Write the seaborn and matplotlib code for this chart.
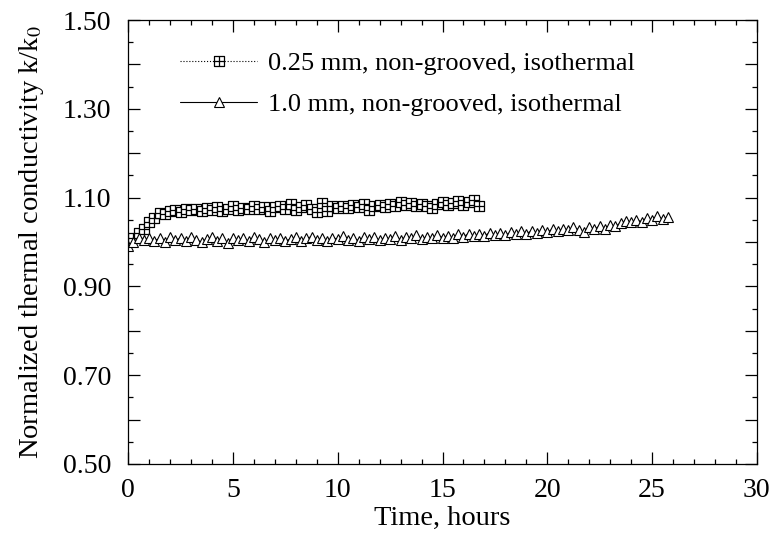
import numpy as np
import pandas as pd
import matplotlib
matplotlib.use("Agg")
import matplotlib.pyplot as plt
from matplotlib.path import Path
import seaborn as sns

# 0.25 mm, non-grooved, isothermal (squares)
t_sq = [0.25, 0.5, 0.75, 1.0, 1.25, 1.5, 1.75, 2.0, 2.25, 2.5, 2.75, 3.0, 3.25, 3.5, 3.75, 4.0,
        4.25, 4.5, 4.75, 5.0, 5.25, 5.5, 5.75, 6.0, 6.25, 6.5, 6.75, 7.0, 7.25, 7.5, 7.75, 8.0,
        8.25, 8.5, 8.75, 9.0, 9.25, 9.5, 9.75, 10.0, 10.25, 10.5, 10.75, 11.0, 11.25, 11.5, 11.75,
        12.0, 12.25, 12.5, 12.75, 13.0, 13.25, 13.5, 13.75, 14.0, 14.25, 14.5, 14.75, 15.0, 15.25,
        15.5, 15.75, 16.0, 16.25, 16.5, 16.75]
k_sq = [1.01, 1.02, 1.03, 1.045, 1.055, 1.065, 1.062, 1.07, 1.072, 1.068, 1.074, 1.071, 1.075, 1.07,
        1.076, 1.072, 1.078, 1.07, 1.074, 1.08, 1.072, 1.077, 1.075, 1.082, 1.074, 1.079, 1.07, 1.078,
        1.082, 1.074, 1.086, 1.072, 1.078, 1.083, 1.075, 1.068, 1.088, 1.07, 1.08, 1.077, 1.082, 1.076,
        1.083, 1.079, 1.085, 1.071, 1.08, 1.084, 1.078, 1.086, 1.082, 1.09, 1.084, 1.088, 1.082, 1.086,
        1.08, 1.077, 1.085, 1.089, 1.083, 1.087, 1.092, 1.084, 1.089, 1.095, 1.081]

# 1.0 mm, non-grooved, isothermal (triangles)
t_tri = [0.0, 0.25, 0.5, 0.75, 1.0, 1.25, 1.5, 1.75, 2.0, 2.25, 2.5, 2.75, 3.0, 3.25, 3.5, 3.75,
         4.0, 4.25, 4.5, 4.75, 5.0, 5.25, 5.5, 5.75, 6.0, 6.25, 6.5, 6.75, 7.0, 7.25, 7.5, 7.75,
         8.0, 8.25, 8.5, 8.75, 9.0, 9.25, 9.5, 9.75, 10.0, 10.25, 10.5, 10.75, 11.0, 11.25, 11.5,
         11.75, 12.0, 12.25, 12.5, 12.75, 13.0, 13.25, 13.5, 13.75, 14.0, 14.25, 14.5, 14.75, 15.0,
         15.25, 15.5, 15.75, 16.0, 16.25, 16.5, 16.75, 17.0, 17.25, 17.5, 17.75, 18.0, 18.25, 18.5,
         18.75, 19.0, 19.25, 19.5, 19.75, 20.0, 20.25, 20.5, 20.75, 21.0, 21.25, 21.5, 21.75, 22.0,
         22.25, 22.5, 22.75, 23.0, 23.25, 23.5, 23.75, 24.0, 24.25, 24.5, 24.75, 25.0, 25.25, 25.5,
         25.75]
k_tri = [0.99, 1.0, 1.01, 1.005, 1.01, 1.003, 1.008, 1.0, 1.012, 1.004, 1.009, 1.002, 1.011, 1.005,
         1.0, 1.007, 1.012, 1.003, 1.008, 0.998, 1.01, 1.004, 1.009, 1.002, 1.012, 1.006, 1.0, 1.008,
         1.004, 1.01, 1.002, 1.007, 1.011, 1.003, 1.008, 1.012, 1.004, 1.009, 1.002, 1.01, 1.006, 1.013,
         1.004, 1.009, 1.003, 1.011, 1.006, 1.012, 1.004, 1.01, 1.007, 1.014, 1.005, 1.011, 1.008, 1.015,
         1.007, 1.012, 1.009, 1.016, 1.01, 1.014, 1.008, 1.017, 1.012, 1.019, 1.013, 1.018, 1.014, 1.021,
         1.016, 1.02, 1.015, 1.022, 1.018, 1.024, 1.019, 1.025, 1.021, 1.027, 1.022, 1.029, 1.024, 1.03,
         1.026, 1.033, 1.028, 1.022, 1.034, 1.029, 1.036, 1.03, 1.038, 1.035, 1.043, 1.047, 1.044, 1.05,
         1.046, 1.054, 1.05, 1.058, 1.052, 1.056]

labels = ["0.25 mm, non-grooved, isothermal", "1.0 mm, non-grooved, isothermal"]
x_ticks = [0, 5, 10, 15, 20, 25, 30]
y_ticks = [0.50, 0.70, 0.90, 1.10, 1.30, 1.50]

sns.set_style("ticks")
plt.rcParams['font.family'] = ['Liberation Serif', 'DejaVu Serif']
plt.rcParams['mathtext.fontset'] = 'stix'
plt.rcParams['text.color'] = 'black'
plt.rcParams['axes.labelcolor'] = 'black'
plt.rcParams['xtick.color'] = 'black'
plt.rcParams['ytick.color'] = 'black'

# square with a cross inside
boxplus = Path(
    [(-1, -1), (1, -1), (1, 1), (-1, 1), (-1, -1), (-1, 0), (1, 0), (0, -1), (0, 1)],
    [Path.MOVETO, Path.LINETO, Path.LINETO, Path.LINETO, Path.CLOSEPOLY,
     Path.MOVETO, Path.LINETO, Path.MOVETO, Path.LINETO])

df_sq = pd.DataFrame({'t': t_sq, 'k': k_sq})
df_tri = pd.DataFrame({'t': t_tri, 'k': k_tri})

fig = plt.figure(figsize=(7.77, 5.42), dpi=100)
ax = fig.add_axes([0.165, 0.144, 0.809, 0.819])

sns.lineplot(data=df_sq, x='t', y='k', ax=ax, color='black', linestyle=':', linewidth=0.8,
             marker=boxplus, markersize=7, markerfacecolor='white', markeredgecolor='black',
             markeredgewidth=0.9, label=labels[0])
sns.lineplot(data=df_tri, x='t', y='k', ax=ax, color='black', linestyle='-', linewidth=0.8,
             marker='^', markersize=7, markerfacecolor='white', markeredgecolor='black',
             markeredgewidth=0.8, label=labels[1])

ax.set_xlim(0, 30)
ax.set_ylim(0.5, 1.5)
ax.set_xticks(x_ticks)
ax.set_xticklabels([str(v) for v in x_ticks])
ax.set_xticks(np.arange(0, 31, 1), minor=True)
ax.set_yticks(np.arange(0.5, 1.51, 0.1))
ax.set_yticklabels(["%.2f" % v if round(v * 10) % 2 == 1 else "" for v in np.arange(0.5, 1.51, 0.1)])
ax.set_yticks(np.arange(0.5, 1.51, 0.05), minor=True)
ax.tick_params(axis='both', which='both', direction='in', top=True, right=True, labelsize=20,
               width=0.9, color='black', labelcolor='black')
ax.tick_params(axis='y', which='major', length=8.5, pad=12)
ax.tick_params(axis='x', which='major', length=8.5, pad=10)
ax.tick_params(which='minor', length=3.5)
for s in ax.spines.values():
    s.set_linewidth(0.9)
    s.set_color('black')

ax.set_xlabel('Time, hours', fontsize=20.5, labelpad=2)
ax.set_ylabel('Normalized thermal conductivity k/k$_0$', fontsize=20.5, labelpad=12)

ax.legend(loc='upper left', bbox_to_anchor=(0.083, 0.928), frameon=False, fontsize=19,
          borderpad=0, borderaxespad=0, handlelength=2.9, handletextpad=0.42,
          labelspacing=0.65, numpoints=1)

fig.savefig('out.png', dpi=100)
